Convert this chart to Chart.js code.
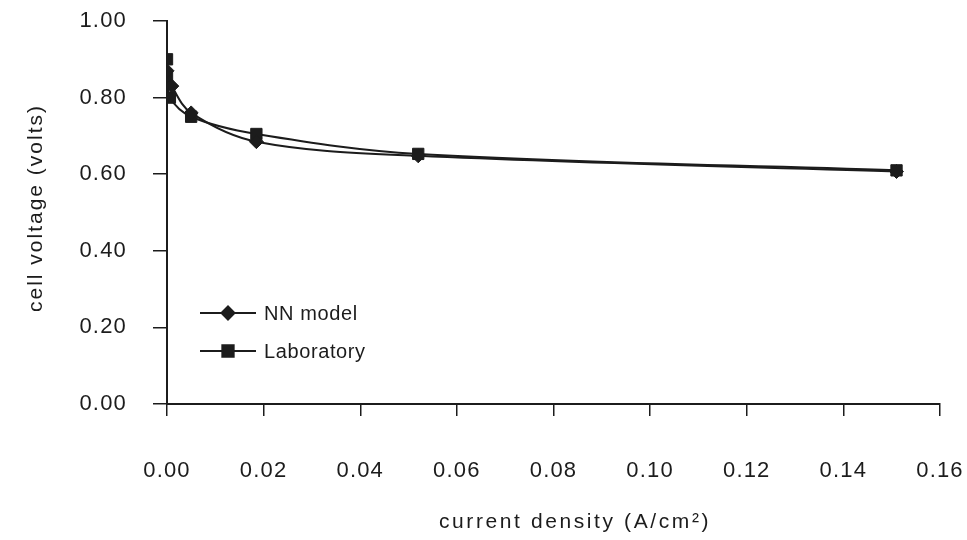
<!DOCTYPE html>
<html>
<head>
<meta charset="utf-8">
<script src="https://cdn.jsdelivr.net/npm/chart.js@4/dist/chart.umd.min.js"></script>
<style>
    html, body { margin: 0; padding: 0; background: #fff; }
    #wrap { width: 967px; height: 540px; }
</style>
</head>
<body>
<div id="wrap"><canvas id="cell-canvas" width="967" height="540"></canvas></div>
<script>
'use strict';

// current density (A/cm2) and cell voltage (volts)
let nnX = [0.0, 0.001, 0.005, 0.0185, 0.052, 0.151];
let nnY = [0.87, 0.83, 0.76, 0.685, 0.648, 0.607];
let labX = [0.0, 0.0, 0.0006, 0.005, 0.0185, 0.052, 0.151];
let labY = [0.90, 0.855, 0.80, 0.75, 0.705, 0.653, 0.61];
let xTicks = [0.00, 0.02, 0.04, 0.06, 0.08, 0.10, 0.12, 0.14, 0.16];
let yTicks = [0.00, 0.20, 0.40, 0.60, 0.80, 1.00];
let seriesNames = ['NN model', 'Laboratory'];
let xTitle = 'current density (A/cm²)';
let yTitle = 'cell voltage (volts)';

let fontFamily = '"Liberation Sans", Arial, sans-serif';
let ink = '#1c1c1c';

function toPoints(xs, ys) {
    let pts = [];
    for (let i = 0; i < xs.length; i++)
        pts.push({x: xs[i], y: ys[i]});
    return pts;
}

//Легенда внутри области графика и подписи осей
let extras = {
    id: 'extras',
    beforeDraw(chart) {
        // немного разреженные подписи делений, как на скане
        chart.ctx.letterSpacing = '1.2px';
    },
    afterDraw(chart) {
        let ctx = chart.ctx;
        let styles = ['rectRot', 'rect'];
        let radii = [6.5, 8];
        let rows = [313, 351];
        ctx.save();
        ctx.letterSpacing = '0.6px';
        for (let i = 0; i < seriesNames.length; i++) {
            let y = rows[i];
            ctx.strokeStyle = ink;
            ctx.lineWidth = 2;
            ctx.beginPath();
            ctx.moveTo(200, y);
            ctx.lineTo(256, y);
            ctx.stroke();
            ctx.fillStyle = ink;
            Chart.helpers.drawPoint(ctx, {pointStyle: styles[i], radius: radii[i], borderWidth: 1}, 228, y);
            ctx.fillStyle = ink;
            ctx.font = '20px ' + fontFamily;
            ctx.textBaseline = 'middle';
            ctx.textAlign = 'left';
            ctx.fillText(seriesNames[i], 264, y + 1);
        }

        ctx.font = '21px ' + fontFamily;
        ctx.textAlign = 'center';
        ctx.textBaseline = 'middle';
        ctx.letterSpacing = '2.6px';
        ctx.fillText(xTitle, 575, 522);

        ctx.letterSpacing = '2px';
        ctx.translate(36, 208);
        ctx.rotate(-Math.PI / 2);
        ctx.fillText(yTitle, 0, 0);
        ctx.restore();
    }
};

let chart = new Chart(document.getElementById('cell-canvas'), {
    type: 'scatter',
    data: {
        datasets: [{
            label: seriesNames[0],
            data: toPoints(nnX, nnY),
            showLine: true,
            tension: 0.35,
            borderColor: ink,
            backgroundColor: ink,
            borderWidth: 2,
            pointStyle: 'rectRot',
            pointRadius: 7,
            pointBorderWidth: 1
        }, {
            label: seriesNames[1],
            data: toPoints(labX, labY),
            showLine: true,
            tension: 0.35,
            borderColor: ink,
            backgroundColor: ink,
            borderWidth: 2,
            pointStyle: 'rect',
            pointRadius: 8,
            pointBorderWidth: 1
        }]
    },
    options: {
        responsive: false,
        animation: false,
        layout: {padding: {top: 21, right: 27, bottom: 0, left: 0}},
        plugins: {
            legend: {display: false},
            tooltip: {enabled: false}
        },
        scales: {
            x: {
                type: 'linear',
                min: 0,
                max: 0.16,
                afterFit: function (scale) {
                    scale.height = 136;
                    scale.paddingLeft = 0;
                    scale.paddingRight = 0;
                },
                afterBuildTicks: function (scale) {
                    scale.ticks = xTicks.map(v => ({value: v}));
                },
                border: {display: true, color: ink, width: 2},
                grid: {drawOnChartArea: false, tickLength: 12, color: ink, tickColor: ink, lineWidth: 1.5},
                ticks: {
                    padding: 42,
                    color: ink,
                    font: {family: fontFamily, size: 22},
                    maxRotation: 0,
                    callback: v => v.toFixed(2)
                }
            },
            y: {
                type: 'linear',
                min: 0,
                max: 1,
                afterFit: function (scale) {
                    scale.width = 167;
                    scale.paddingTop = 0;
                    scale.paddingBottom = 0;
                },
                afterBuildTicks: function (scale) {
                    scale.ticks = yTicks.map(v => ({value: v}));
                },
                border: {display: true, color: ink, width: 2},
                grid: {drawOnChartArea: false, tickLength: 14, color: ink, tickColor: ink, lineWidth: 1.5},
                ticks: {
                    padding: 26,
                    color: ink,
                    font: {family: fontFamily, size: 22},
                    callback: v => v.toFixed(2)
                }
            }
        }
    },
    plugins: [extras]
});
</script>
</body>
</html>
